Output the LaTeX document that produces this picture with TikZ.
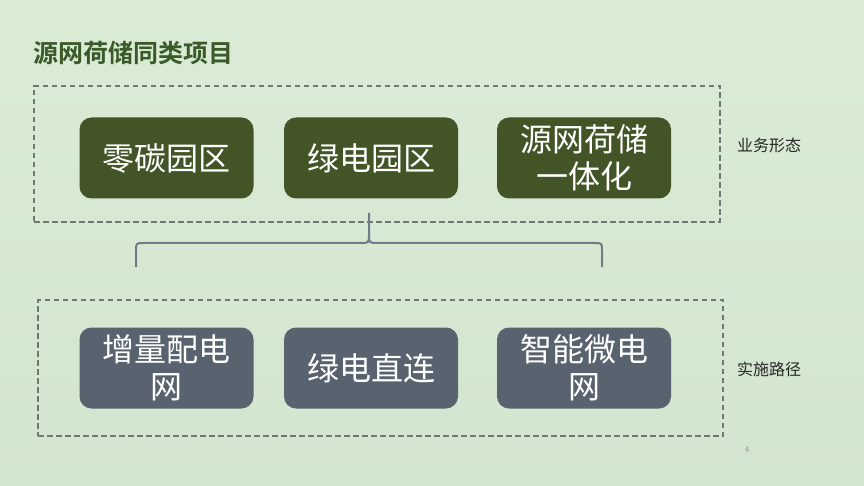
\documentclass[tikz,border=0pt]{standalone}
\usepackage{fontspec}
\newfontfamily\cjk{Noto Sans CJK SC}
\newfontfamily\cjkb{Noto Sans CJK SC Bold}
\definecolor{bgtop}{HTML}{DAECD6}
\definecolor{bgbot}{HTML}{D2E5CE}
\definecolor{titlegreen}{HTML}{3B5A2A}
\definecolor{boxgreen}{HTML}{435526}
\definecolor{boxslate}{HTML}{596370}
\definecolor{dashgray}{HTML}{6E7A70}
\definecolor{bracegray}{HTML}{6E7B88}
\tikzset{
  itembox/.style={rounded corners=12pt, minimum width=174pt, minimum height=81pt,
    text=white, align=center, inner sep=0pt,
    font=\cjk\fontsize{32}{37}\selectfont},
  topbox/.style={itembox, fill=boxgreen},
  botbox/.style={itembox, fill=boxslate},
  groupframe/.style={draw=dashgray, line width=1.2pt, dash pattern=on 5.5pt off 3.5pt},
  sidelabel/.style={anchor=west, inner sep=0pt, text=black!85, font=\cjk\fontsize{16}{18}\selectfont},
  bracestyle/.style={draw=bracegray, line width=2pt}
}
\begin{document}
\begin{tikzpicture}[x=1pt,y=-1pt]
\shade[top color=bgtop, bottom color=bgbot] (0,0) rectangle (864,486);
\useasboundingbox (0,0) rectangle (864,486);

\node[anchor=west, inner sep=0pt, text=titlegreen, font=\cjkb\fontsize{25}{28}\selectfont] (title) at (33,53) {源网荷储同类项目};

\node[groupframe, minimum width=686pt, minimum height=136pt, inner sep=0pt] (topframe) at (377,154) {};
\node[groupframe, minimum width=685pt, minimum height=136pt, inner sep=0pt] (botframe) at (380.5,368) {};

\node[topbox] (t1) at (166.5,158) {零碳园区};
\node[topbox] (t2) at (371,158) {绿电园区};
\node[topbox] (t3) at (584,158) {源网荷储\\一体化};

\node[botbox] (b1) at (166.5,368) {增量配电\\网};
\node[botbox] (b2) at (371,368) {绿电直连};
\node[botbox] (b3) at (584,368) {智能微电\\网};

\node[sidelabel] (l1) at (737,145) {业务形态};
\node[sidelabel] (l2) at (737,369) {实施路径};
\node[anchor=center, inner sep=0pt, text=black!40, font=\cjk\fontsize{8}{10}\selectfont] (pg) at (747,450) {4};

\coordinate (bl) at (136,267);
\coordinate (br) at (602,267);
\coordinate (tip) at (369,213);
\draw[bracestyle] (bl) -- (136,251) .. controls (136,243) .. (144,243) -- (360,243)
   .. controls (369,243) .. (369,234) -- (tip);
\draw[bracestyle] (br) -- (602,251) .. controls (602,243) .. (594,243) -- (378,243)
   .. controls (369,243) .. (369,234);
\end{tikzpicture}
\end{document}
